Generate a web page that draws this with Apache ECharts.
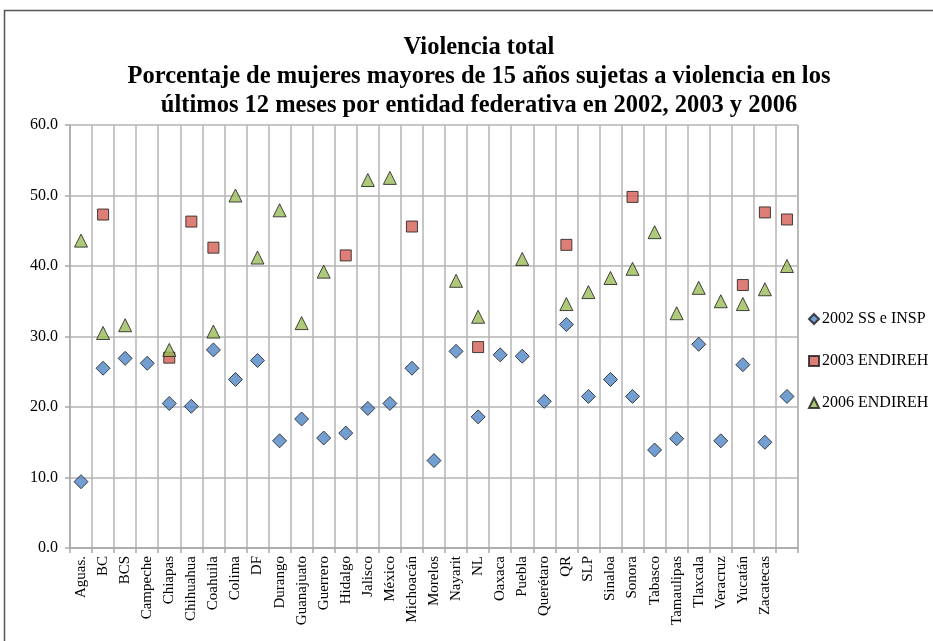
<!DOCTYPE html>
<html><head><meta charset="utf-8">
<script src="https://cdn.jsdelivr.net/npm/echarts@6/dist/echarts.min.js"></script>
<style>html,body{margin:0;padding:0;background:#fff}#c{width:933px;height:641px}</style>
</head><body><div id="c"></div>
<script>
const categories = ['Aguas.','BC','BCS','Campeche','Chiapas','Chihuahua','Coahuila','Colima','DF','Durango','Guanajuato','Guerrero','Hidalgo','Jalisco','México','Michoacán','Morelos','Nayarit','NL','Oaxaca','Puebla','Querétaro','QR','SLP','Sinaloa','Sonora','Tabasco','Tamaulipas','Tlaxcala','Veracruz','Yucatán','Zacatecas',''];
const s2002 = [9.4,25.5,26.9,26.2,20.5,20.1,28.1,23.9,26.6,15.2,18.3,15.6,16.3,19.8,20.5,25.5,12.4,27.9,18.6,27.4,27.2,20.8,31.7,21.5,23.9,21.5,13.9,15.5,28.9,15.2,26.0,15.0,21.5];
const s2003 = [null,47.3,null,null,27.0,46.3,42.6,null,null,null,null,null,41.5,null,null,45.6,null,null,28.5,null,null,null,43.0,null,null,49.8,null,null,null,null,37.3,47.6,46.6];
const s2006 = [43.6,30.5,31.6,null,28.1,null,30.7,50.0,41.2,47.9,31.9,39.2,null,52.2,52.5,null,null,37.9,32.8,null,41.0,null,34.6,36.3,38.3,39.6,44.8,33.3,36.9,35.0,34.6,36.7,40.0];
const seriesNames = ['2002 SS e INSP','2003 ENDIREH','2006 ENDIREH'];
const yTicks = {min:0, max:60, interval:10};

const font = 'Liberation Serif';
const chart = echarts.init(document.getElementById('c'));
const mk = (name, data, symbol, size, color) => ({
  name, type:'scatter', data, symbol, symbolSize:size,
  itemStyle:{color, borderColor:'#1a1a1a', borderWidth:1}
});
chart.setOption({
  animation:false,
  graphic:[
    {type:'rect', shape:{x:4.5,y:10.5,width:940,height:640}, style:{fill:'none', stroke:'#555', lineWidth:1.5}},
    {type:'line', shape:{x1:798,y1:125,x2:798,y2:548}, style:{stroke:'#b4b4b4', lineWidth:1.5}}
  ],
  title:{
    text:'Violencia total\nPorcentaje de mujeres mayores de 15 años sujetas a violencia en los\núltimos 12 meses por entidad federativa en 2002, 2003 y 2006',
    left:474, top:28, textAlign:'center',
    textStyle:{fontFamily:font, fontWeight:'bold', fontSize:24.5, lineHeight:29, color:'#000'}
  },
  legend:{
    orient:'vertical', left:803, top:306, itemGap:26, itemWidth:10, itemHeight:10,
    textStyle:{fontFamily:font, fontSize:16, color:'#000', padding:[0,0,0,-2]},
    data:seriesNames
  },
  grid:{left:70, right:135, top:125, bottom:93},
  xAxis:{
    type:'category', data:categories, boundaryGap:true,
    axisLine:{lineStyle:{color:'#a8a8a8', width:1.5}},
    axisTick:{show:true, length:5, lineStyle:{color:'#a8a8a8', width:1.5}},
    splitLine:{show:true, lineStyle:{color:'#b4b4b4', width:1.5}},
    axisLabel:{rotate:90, interval:0, fontFamily:font, fontSize:15, color:'#000', margin:8}
  },
  yAxis:{
    type:'value', min:yTicks.min, max:yTicks.max, interval:yTicks.interval,
    axisLine:{show:true, lineStyle:{color:'#a8a8a8', width:1.5}},
    axisTick:{show:true, length:5, lineStyle:{color:'#a8a8a8', width:1.5}},
    splitLine:{lineStyle:{color:'#b4b4b4', width:1.5}},
    axisLabel:{formatter:v=>v.toFixed(1), fontFamily:font, fontSize:16, color:'#000', margin:12}
  },
  series:[
    mk(seriesNames[0], s2002, 'diamond', 14, '#4f86c6'),
    mk(seriesNames[1], s2003, 'rect', 11, '#d65f55'),
    mk(seriesNames[2], s2006, 'triangle', 13, '#9bbb59')
  ]
});
</script></body></html>
